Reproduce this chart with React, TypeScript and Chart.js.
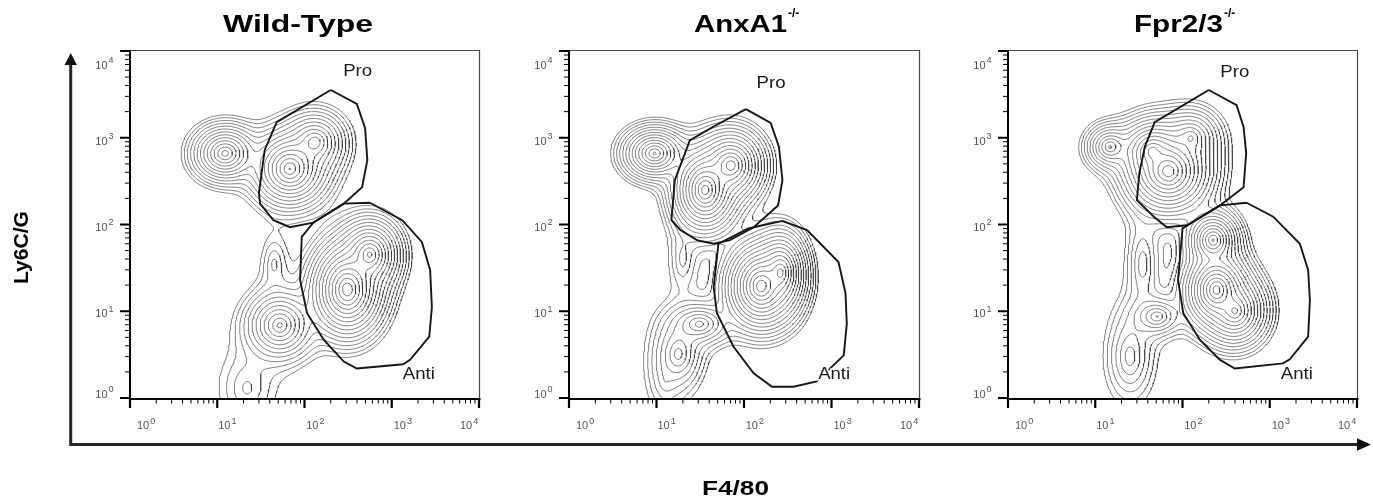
import React, { useEffect, useRef } from 'react';
import { Chart, registerables } from 'chart.js';

Chart.register(...registerables);

const PAGE_W = 1373;
const PAGE_H = 504;

// ---------- text ----------
const panelTitles = ['Wild-Type', 'AnxA1', 'Fpr2/3'];
const panelTitleSups = ['', '-/-', '-/-'];
const xAxisTitle = 'F4/80';
const yAxisTitle = 'Ly6C/G';
const decadeValues = [1, 10, 100, 1000, 10000];
const decadeExponents = ['0', '1', '2', '3', '4'];
const gateNames = ['Pro', 'Anti'];

// ---------- populations: [F4/80 centre, Ly6C/G centre, spread x (decades), spread y (decades), correlation, peak weight] ----------
const wtPopulations = [
  [12.3, 660, 0.105, 0.092, 0, 0.25],
  [68, 440, 0.115, 0.115, 0, 0.45],
  [132, 890, 0.11, 0.11, 0, 0.12],
  [310, 17.8, 0.1, 0.13, 0, 1.0],
  [560, 45, 0.095, 0.11, 0, 0.33],
  [52, 6.9, 0.12, 0.12, 0, 0.15],
  [45, 35, 0.1, 0.22, 0, 0.006],
  [22, 1.3, 0.22, 0.3, 0, 0.006],
];
const anxPopulations = [
  [9.5, 660, 0.1, 0.083, 0, 0.2],
  [36, 250, 0.092, 0.12, 0, 0.55],
  [71, 480, 0.1, 0.11, 0, 0.25],
  [157, 19.5, 0.097, 0.12, 0, 0.6],
  [263, 28, 0.075, 0.12, 0, 0.3],
  [31, 7.1, 0.13, 0.09, 0, 0.03],
  [17.8, 3.2, 0.11, 0.16, 0, 0.02],
  [20, 40, 0.1, 0.25, 0, 0.004],
  [12.6, 1.6, 0.14, 0.3, 0, 0.003],
];
const fprPopulations = [
  [14.8, 785, 0.09, 0.085, 0, 0.06],
  [69, 410, 0.12, 0.12, 0, 0.6],
  [45, 700, 0.1, 0.1, 0, 0.2],
  [126, 1000, 0.11, 0.11, 0, 0.05],
  [245, 17.6, 0.092, 0.11, 0, 0.55],
  [224, 66, 0.083, 0.092, 0, 0.2],
  [400, 10, 0.1, 0.11, 0, 0.2],
  [51, 8.7, 0.11, 0.085, 0, 0.025],
  [35, 35, 0.1, 0.3, 0, 0.007],
  [25, 3.0, 0.13, 0.25, 0, 0.01],
];

// ---------- gates: vertices [F4/80, Ly6C/G] ----------
const wtProGate = [
  [200, 3550], [398, 2455], [495, 1290], [525, 550], [457, 269], [282, 174], [126, 105],
  [68, 93], [44, 112], [31, 174], [30, 229], [35, 724], [48, 1510],
];
const wtAntiGate = [
  [562, 178], [1318, 112], [2213, 63], [2754, 30], [2884, 11.2], [2692, 5.1], [1622, 2.75],
  [1349, 2.45], [398, 2.19], [282, 2.63], [166, 4.7], [107, 9.5], [89, 22.9], [93, 72],
  [126, 105], [282, 174],
];
const anxProGate = [
  [105, 2138], [202, 1479], [251, 785], [275, 324], [245, 166], [129, 93], [69, 66],
  [45, 60], [29, 66], [18.6, 87], [14.8, 112], [16.2, 324], [24, 933], [45, 1349],
];
const anxAntiGate = [
  [275, 110], [525, 86], [1202, 37], [1445, 16.2], [1496, 7.2], [1380, 3.1], [676, 1.55],
  [367, 1.35], [209, 1.35], [129, 1.93], [76, 3.9], [49, 9.5], [45, 19], [51, 60], [112, 90],
];
const fprProGate = [
  [200, 3550], [417, 2371], [501, 1334], [537, 661], [501, 269], [269, 166], [112, 98],
  [66, 93], [47, 123], [30, 191], [32, 389], [37, 785], [48, 1514],
];
const fprAntiGate = [
  [543, 178], [1096, 123], [2213, 60], [2754, 30], [2884, 13.5], [2754, 5.1], [1698, 2.79],
  [1413, 2.51], [398, 2.19], [269, 2.75], [158, 4.7], [102, 9.5], [89, 23], [100, 90], [269, 166],
];

// gate label anchors [F4/80, Ly6C/G] for Pro and Anti
const wtLabelAnchors = [[407, 5750], [2040, 1.84]];
const anxLabelAnchors = [[204, 4170], [1072, 1.84]];
const fprLabelAnchors = [[398, 5690], [2040, 1.84]];

// ---------- layout ----------
const panelAreas = [
  { left: 130, right: 479 },
  { left: 569, right: 919 },
  { left: 1008, right: 1357 },
];
const AREA_TOP = 51;
const AREA_BOTTOM = 398;
const titleBoxes = [
  { left: 223, width: 150 },
  { left: 694, width: 93 },
  { left: 1134, width: 89 },
];
const gateLabelWidths = [29, 32];

const panels = [
  { pops: wtPopulations, gates: [wtProGate, wtAntiGate], labels: wtLabelAnchors },
  { pops: anxPopulations, gates: [anxProGate, anxAntiGate], labels: anxLabelAnchors },
  { pops: fprPopulations, gates: [fprProGate, fprAntiGate], labels: fprLabelAnchors },
];

// ---------- contour computation (density of populations -> iso-lines) ----------
const GRID_MIN = -0.4;
const GRID_MAX = 4.3;
const GRID_STEP = 0.02;
const LEVEL_COUNT = 16;
const LEVEL_RATIO = 0.67;
const SHAPE = 1.1;

function buildContours(pops: number[][]) {
  const P = pops.map((p) => [Math.log10(p[0]), Math.log10(p[1]), p[2], p[3], p[4], p[5]]);
  const n = Math.round((GRID_MAX - GRID_MIN) / GRID_STEP) + 1;
  const g = new Float64Array(n * n);
  let max = 0;
  for (let j = 0; j < n; j++) {
    const ly = GRID_MIN + j * GRID_STEP;
    for (let i = 0; i < n; i++) {
      const lx = GRID_MIN + i * GRID_STEP;
      let s = 0;
      for (const p of P) {
        const dx = (lx - p[0]) / p[2];
        const dy = (ly - p[1]) / p[3];
        const r = p[4];
        const q = (dx * dx - 2 * r * dx * dy + dy * dy) / (1 - r * r);
        const d = Math.sqrt(q);
        s += p[5] * Math.exp(-Math.pow(d, SHAPE) / SHAPE);
      }
      g[j * n + i] = s;
      if (s > max) max = s;
    }
  }
  const lines: number[][][] = [];
  for (let k = 1; k <= LEVEL_COUNT; k++) {
    const t = max * Math.pow(LEVEL_RATIO, k);
    const segs: number[] = [];
    for (let j = 0; j < n - 1; j++) {
      for (let i = 0; i < n - 1; i++) {
        const a = g[j * n + i], b = g[j * n + i + 1], c = g[(j + 1) * n + i + 1], d = g[(j + 1) * n + i];
        const idx = (a > t ? 1 : 0) | (b > t ? 2 : 0) | (c > t ? 4 : 0) | (d > t ? 8 : 0);
        if (idx === 0 || idx === 15) continue;
        const B = (j * n + i) * 2;
        const T = ((j + 1) * n + i) * 2;
        const L = (j * n + i) * 2 + 1;
        const R = (j * n + i + 1) * 2 + 1;
        const m = (a + b + c + d) / 4;
        switch (idx) {
          case 1: case 14: segs.push(L, B); break;
          case 2: case 13: segs.push(B, R); break;
          case 3: case 12: segs.push(L, R); break;
          case 4: case 11: segs.push(R, T); break;
          case 6: case 9: segs.push(B, T); break;
          case 7: case 8: segs.push(L, T); break;
          case 5: if (m > t) segs.push(B, R, T, L); else segs.push(L, B, R, T); break;
          case 10: if (m > t) segs.push(L, B, R, T); else segs.push(B, R, T, L); break;
        }
      }
    }
    const edgePoint = (e: number) => {
      const cell = Math.floor(e / 2);
      const i = cell % n;
      const j = (cell - i) / n;
      if (e % 2 === 0) {
        const a = g[j * n + i], b = g[j * n + i + 1];
        const f = (t - a) / (b - a);
        return [GRID_MIN + (i + f) * GRID_STEP, GRID_MIN + j * GRID_STEP];
      }
      const a = g[j * n + i], b = g[(j + 1) * n + i];
      const f = (t - a) / (b - a);
      return [GRID_MIN + i * GRID_STEP, GRID_MIN + (j + f) * GRID_STEP];
    };
    const segCount = segs.length / 2;
    const adj = new Map<number, number[]>();
    for (let s = 0; s < segCount; s++) {
      for (const e of [segs[2 * s], segs[2 * s + 1]]) {
        const l = adj.get(e);
        if (l) l.push(s); else adj.set(e, [s]);
      }
    }
    const used = new Uint8Array(segCount);
    const walk = (start: number, chain: number[], front: boolean) => {
      let cur = start;
      for (;;) {
        const l = adj.get(cur) || [];
        let next = -1;
        for (const s of l) if (!used[s]) { next = s; break; }
        if (next < 0) break;
        used[next] = 1;
        const other = segs[2 * next] === cur ? segs[2 * next + 1] : segs[2 * next];
        if (front) chain.push(other); else chain.unshift(other);
        cur = other;
      }
    };
    for (let s = 0; s < segCount; s++) {
      if (used[s]) continue;
      used[s] = 1;
      const chain = [segs[2 * s], segs[2 * s + 1]];
      walk(segs[2 * s + 1], chain, true);
      walk(segs[2 * s], chain, false);
      lines.push(chain.map(edgePoint));
    }
  }
  return lines;
}

function contourData(pops: number[][]) {
  const out: { x: number; y: number | null }[] = [];
  for (const line of buildContours(pops)) {
    for (const [lx, ly] of line) out.push({ x: Math.pow(10, lx), y: Math.pow(10, ly) });
    out.push({ x: 1, y: null });
  }
  return out;
}

// ---------- drawing helpers ----------
function fitText(ctx: CanvasRenderingContext2D, text: string, x: number, y: number, width: number, stroke = false) {
  const w = ctx.measureText(text).width;
  ctx.save();
  ctx.translate(x, y);
  ctx.scale(width / w, 1);
  ctx.textAlign = 'left';
  if (stroke) ctx.strokeText(text, 0, 0);
  ctx.fillText(text, 0, 0);
  ctx.restore();
}

const Y_LABEL_SHIFT = [-4.4, 2.1, 2.3, 3.2, 13.8];
const X_LABEL_SHIFT = [7, 1, 1.7, 2, -19];

function makePanelPlugin(idx: number) {
  return {
    id: 'panelDecor' + idx,
    beforeDraw(chart: any) {
      if (idx !== 0) return;
      const ctx = chart.ctx as CanvasRenderingContext2D;
      ctx.save();
      ctx.strokeStyle = '#262626';
      ctx.lineWidth = 3;
      ctx.beginPath();
      ctx.moveTo(70.7, 62);
      ctx.lineTo(70.7, 444.5);
      ctx.lineTo(1360, 444.5);
      ctx.stroke();
      ctx.fillStyle = '#111';
      ctx.beginPath();
      ctx.moveTo(70.7, 53);
      ctx.lineTo(64.5, 65);
      ctx.lineTo(76.9, 65);
      ctx.closePath();
      ctx.fill();
      ctx.beginPath();
      ctx.moveTo(1371, 444.5);
      ctx.lineTo(1357, 438.3);
      ctx.lineTo(1357, 450.7);
      ctx.closePath();
      ctx.fill();
      ctx.fillStyle = '#000';
      ctx.font = 'bold 21px "Liberation Sans", Arial, sans-serif';
      ctx.textBaseline = 'alphabetic';
      fitText(ctx, xAxisTitle, 702, 495, 67);
      ctx.save();
      ctx.translate(28, 284);
      ctx.rotate(-Math.PI / 2);
      fitText(ctx, yAxisTitle, 0, 0, 73);
      ctx.restore();
      ctx.restore();
    },
    afterDatasetsDraw(chart: any) {
      const ctx = chart.ctx as CanvasRenderingContext2D;
      const xs = chart.scales.x, ys = chart.scales.y;
      const labels = panels[idx].labels;
      ctx.save();
      ctx.font = '16px "Liberation Sans", Arial, sans-serif';
      ctx.textBaseline = 'middle';
      labels.forEach((pt, k) => {
        const px = xs.getPixelForValue(pt[0]);
        const py = ys.getPixelForValue(pt[1]);
        const w = gateLabelWidths[k];
        ctx.strokeStyle = '#fff';
        ctx.lineWidth = 3;
        ctx.fillStyle = '#1a1a1a';
        fitText(ctx, gateNames[k], px - w / 2, py, w, true);
      });
      ctx.restore();
    },
    afterDraw(chart: any) {
      const ctx = chart.ctx as CanvasRenderingContext2D;
      const a = chart.chartArea;
      const xs = chart.scales.x, ys = chart.scales.y;
      ctx.save();
      ctx.strokeStyle = '#4a4a4a';
      ctx.lineWidth = 1.2;
      ctx.beginPath();
      ctx.moveTo(a.left, a.top - 0.5);
      ctx.lineTo(a.right + 0.5, a.top - 0.5);
      ctx.lineTo(a.right + 0.5, a.bottom + 1);
      ctx.stroke();
      ctx.strokeStyle = '#000';
      ctx.lineWidth = 2;
      ctx.beginPath();
      ctx.moveTo(a.left, a.top - 1);
      ctx.lineTo(a.left, a.bottom + 2);
      ctx.moveTo(a.left - 1, a.bottom + 1);
      ctx.lineTo(a.right + 1.5, a.bottom + 1);
      ctx.stroke();
      for (let e = 0; e < 4; e++) {
        for (let m = 2; m <= 9; m++) {
          const v = m * decadeValues[e];
          const px = xs.getPixelForValue(v);
          const py = ys.getPixelForValue(v);
          ctx.lineWidth = 1;
          ctx.beginPath();
          ctx.moveTo(px, a.bottom + 1);
          ctx.lineTo(px, a.bottom + 5.5);
          ctx.moveTo(a.left, py);
          ctx.lineTo(a.left - 5, py);
          ctx.stroke();
        }
      }
      decadeValues.forEach((v) => {
        const px = xs.getPixelForValue(v);
        const py = ys.getPixelForValue(v);
        ctx.lineWidth = 2.2;
        ctx.beginPath();
        ctx.moveTo(px, a.bottom + 1);
        ctx.lineTo(px, a.bottom + 10);
        ctx.moveTo(a.left, py);
        ctx.lineTo(a.left - 10, py);
        ctx.stroke();
      });
      ctx.fillStyle = '#555';
      ctx.textBaseline = 'alphabetic';
      decadeValues.forEach((v, k) => {
        const px = xs.getPixelForValue(v);
        const py = ys.getPixelForValue(v);
        ctx.font = '11px "Liberation Sans", Arial, sans-serif';
        const w10 = ctx.measureText('10').width;
        ctx.font = '9px "Liberation Sans", Arial, sans-serif';
        const wSup = ctx.measureText(decadeExponents[k]).width;
        const yBase = py + Y_LABEL_SHIFT[k] + 4;
        const yRight = a.left - 16.5;
        ctx.font = '11px "Liberation Sans", Arial, sans-serif';
        ctx.textAlign = 'left';
        ctx.fillText('10', yRight - wSup - 1 - w10, yBase);
        ctx.font = '9px "Liberation Sans", Arial, sans-serif';
        ctx.fillText(decadeExponents[k], yRight - wSup, yBase - 5.5);
        const xStart = px + X_LABEL_SHIFT[k];
        const xBase = a.bottom + 31;
        ctx.font = '11px "Liberation Sans", Arial, sans-serif';
        ctx.fillText('10', xStart, xBase);
        ctx.font = '9px "Liberation Sans", Arial, sans-serif';
        ctx.fillText(decadeExponents[k], xStart + w10 + 1, xBase - 5.5);
      });
      ctx.fillStyle = '#000';
      ctx.font = 'bold 23px "Liberation Sans", Arial, sans-serif';
      const tb = titleBoxes[idx];
      fitText(ctx, panelTitles[idx], tb.left, 31.5, tb.width);
      if (panelTitleSups[idx]) {
        ctx.font = 'bold 12px "Liberation Sans", Arial, sans-serif';
        ctx.textAlign = 'left';
        ctx.fillText(panelTitleSups[idx], tb.left + tb.width + 1, 17);
      }
      ctx.restore();
    },
  };
}

function makeConfig(idx: number): any {
  const p = panels[idx];
  const area = panelAreas[idx];
  const gateSets = p.gates.map((gate) => ({
    type: 'line',
    data: [...gate, gate[0]].map((v) => ({ x: v[0], y: v[1] })),
    borderColor: '#161616',
    borderWidth: 1.9,
    pointRadius: 0,
    fill: false,
    tension: 0,
  }));
  return {
    type: 'line',
    data: {
      datasets: [
        ...gateSets,
        {
          data: contourData(p.pops),
          borderColor: 'rgba(50,50,50,0.75)',
          borderWidth: 0.8,
          pointRadius: 0,
          fill: false,
          spanGaps: false,
          tension: 0,
        },
      ],
    },
    options: {
      responsive: false,
      maintainAspectRatio: false,
      devicePixelRatio: 1,
      animation: false,
      events: [],
      layout: {
        padding: {
          left: area.left,
          right: PAGE_W - area.right,
          top: AREA_TOP,
          bottom: PAGE_H - AREA_BOTTOM,
        },
      },
      scales: {
        x: { type: 'logarithmic', min: 1, max: 10000, display: false },
        y: { type: 'logarithmic', min: 1, max: 10000, display: false },
      },
      plugins: { legend: { display: false }, tooltip: { enabled: false }, title: { display: false } },
    },
    plugins: [makePanelPlugin(idx)],
  };
}

export default function App() {
  const r0 = useRef<HTMLCanvasElement>(null);
  const r1 = useRef<HTMLCanvasElement>(null);
  const r2 = useRef<HTMLCanvasElement>(null);
  useEffect(() => {
    const refs = [r0, r1, r2];
    const charts = refs.map((r, i) => new Chart(r.current as HTMLCanvasElement, makeConfig(i)));
    return () => charts.forEach((c) => c.destroy());
  }, []);
  const style: React.CSSProperties = { position: 'absolute', left: 0, top: 0 };
  return (
    <div style={{ position: 'fixed', left: 0, top: 0, width: PAGE_W, height: PAGE_H, background: '#fff' }}>
      <canvas ref={r0} width={PAGE_W} height={PAGE_H} style={style} />
      <canvas ref={r1} width={PAGE_W} height={PAGE_H} style={style} />
      <canvas ref={r2} width={PAGE_W} height={PAGE_H} style={style} />
    </div>
  );
}
